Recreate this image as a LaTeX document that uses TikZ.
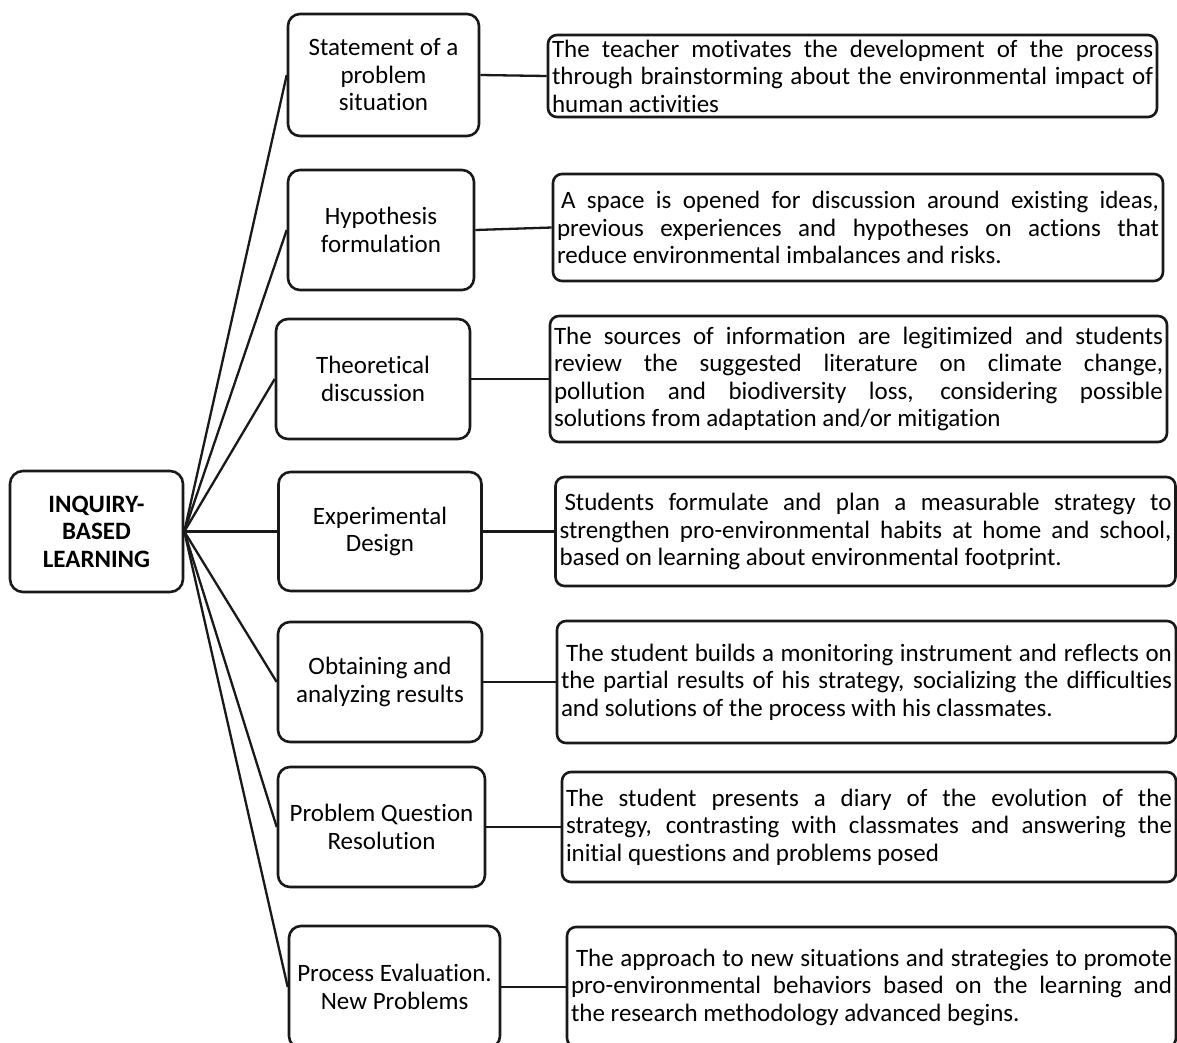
\documentclass[tikz,border=0pt]{standalone}
\usepackage{fontspec}
\setmainfont{Carlito}[Ligatures={NoCommon}]
\begin{document}
\begin{tikzpicture}[x=1pt,y=-1pt,
  basebox/.style={draw=black!90, line width=2.6pt, inner sep=0pt,
    font=\fontsize{25}{27.5}\selectfont},
  mainbox/.style={basebox, rounded corners=13pt, align=center, font=\fontsize{25}{27.5}\selectfont\bfseries},
  midbox/.style={basebox, rounded corners=12pt, align=center},
  descbox/.style={basebox, rounded corners=9pt, align=justify, inner xsep=4pt},
  conn/.style={draw=black!90, line width=2.3pt}]
\clip (0,0) rectangle (1177,1042);
\fill[white] (0,0) rectangle (1177,1042);

\node[mainbox, minimum width=173pt, minimum height=121pt] (main) at (96.5,531.5) {INQUIRY-\\BASED\\LEARNING};

\node[midbox, minimum width=191pt, minimum height=122pt] (m1) at (383.5,75) {Statement of a\\problem\\situation};
\node[midbox, minimum width=186pt, minimum height=120pt] (m2) at (381,230) {Hypothesis\\formulation};
\node[midbox, minimum width=194pt, minimum height=120pt] (m3) at (373,379) {Theoretical\\discussion};
\node[midbox, minimum width=203pt, minimum height=119pt] (m4) at (380,531.5) {Experimental\\Design};
\node[midbox, minimum width=204pt, minimum height=120pt] (m5) at (380,682) {Obtaining and\\analyzing results};
\node[midbox, minimum width=207pt, minimum height=120pt] (m6) at (381.5,827) {Problem Question\\Resolution};
\node[midbox, minimum width=211pt, minimum height=122pt] (m7) at (394.5,987) {Process Evaluation.\\New Problems};

\node[descbox, text width=601pt, minimum height=82pt] (r1) at (852.5,76)
  {The teacher motivates the development of the process\linebreak through brainstorming about the environmental impact of\linebreak human activities};
\node[descbox, text width=602pt, minimum height=107pt] (r2) at (858,227.5)
  {\hspace*{4pt}A space is opened for discussion around existing ideas,\linebreak previous experiences and hypotheses on actions that\linebreak reduce environmental imbalances and risks.};
\node[descbox, text width=609pt, minimum height=126pt] (r3) at (858.5,379)
  {The sources of information are legitimized and students\linebreak review the suggested literature on climate change,\linebreak pollution and biodiversity loss, considering possible\linebreak solutions from adaptation and/or mitigation};
\node[descbox, text width=612pt, minimum height=109pt] (r4) at (865.5,531.5)
  {\hspace*{5pt}Students formulate and plan a measurable strategy to\linebreak strengthen pro-environmental habits at home and school,\linebreak based on learning about environmental footprint.};
\node[descbox, text width=611pt, minimum height=122pt] (r5) at (866.5,682)
  {\hspace*{5pt}The student builds a monitoring instrument and reflects on\linebreak the partial results of his strategy, socializing the difficulties\linebreak and solutions of the process with his classmates.};
\node[descbox, text width=606pt, minimum height=110pt] (r6) at (869,827)
  {The student presents a diary of the evolution of the\linebreak strategy, contrasting with classmates and answering the\linebreak initial questions and problems posed};
\node[descbox, text width=601pt, minimum height=120pt] (r7) at (871.5,987)
  {\hspace*{5pt}The approach to new situations and strategies to promote\linebreak pro-environmental behaviors based on the learning and\linebreak the research methodology advanced begins.};

\foreach \i in {1,...,7} {
  \draw[conn] (main.east) -- (m\i.west);
  \draw[conn] (m\i.east) -- (r\i.west);
}
\end{tikzpicture}
\end{document}
